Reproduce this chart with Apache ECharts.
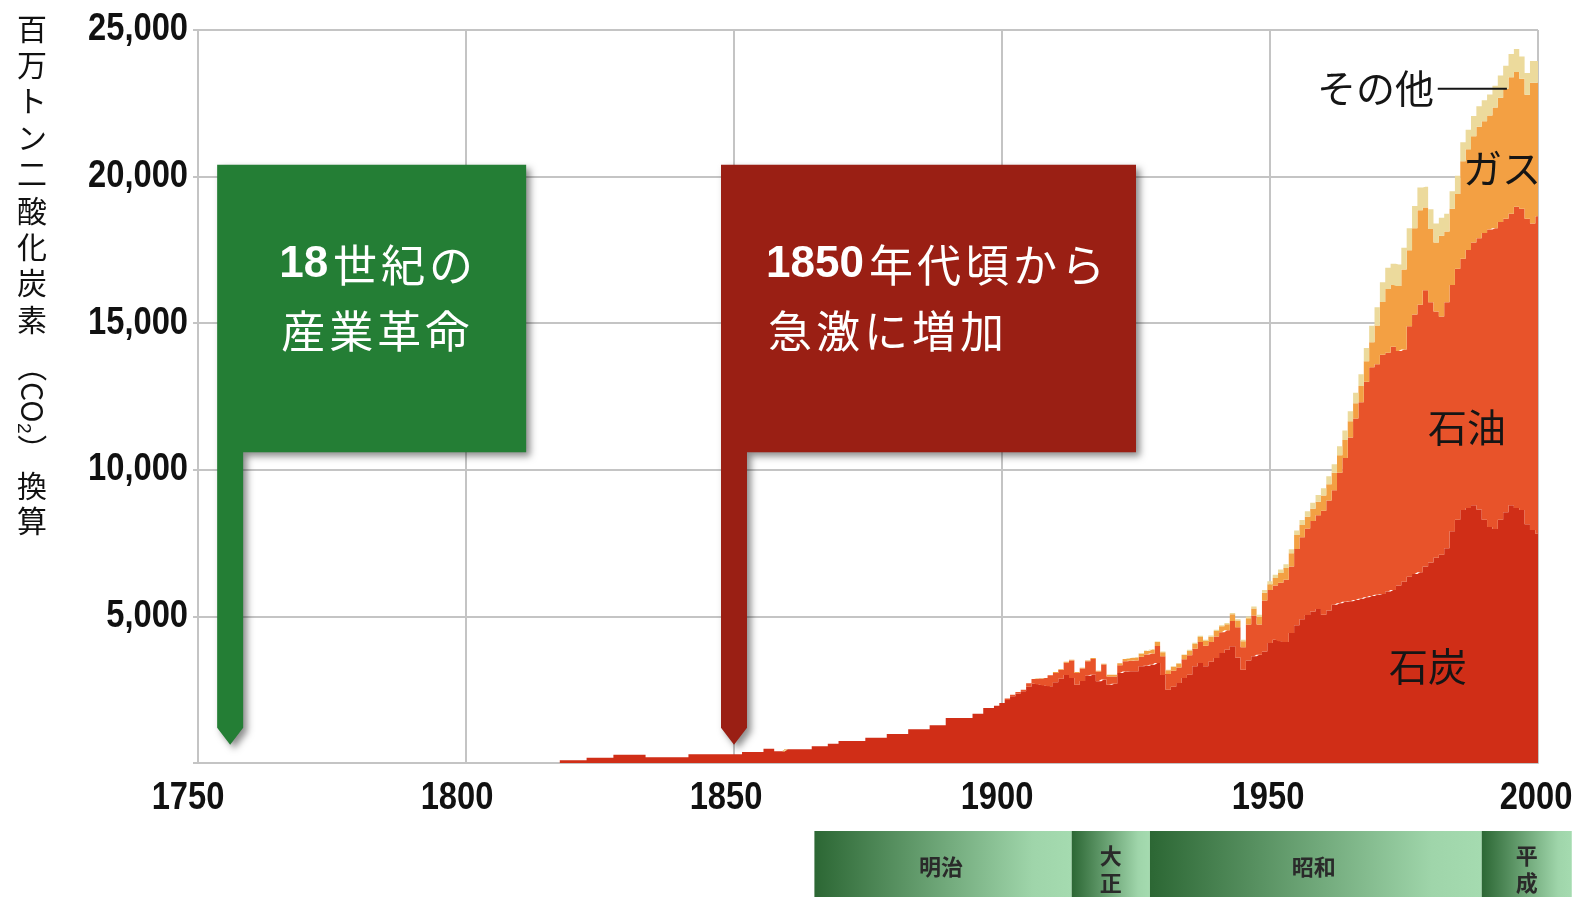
<!DOCTYPE html>
<html>
<head>
<meta charset="utf-8">
<script src="https://cdn.jsdelivr.net/npm/echarts@6/dist/echarts.min.js"></script>
<style>
html,body{margin:0;padding:0;background:#ffffff;}
#chart{width:1585px;height:897px;}
</style>
</head>
<body>
<div id="chart"></div>
<script>
// ---------- DATA (MtCO2) ----------
const firstYear = 1750;
const lastYear = 2000;
const xTickYears = [1750, 1800, 1850, 1900, 1950, 2000];
const yTicks = [0, 5000, 10000, 15000, 20000, 25000];

const coalStart = 1818;
const coal = [
  90,90,90,90,90, 180,180,180,180,180, 285,285,285,285,285,285,
  195,195,195,195,195,195,195,195, 295,295,295,295,295,295,295,295,295,295,
  375,375,375,375, 490,490, 400,400, 465,465,465,465,465, 570,570,570, 660,660,
  750,750,750,750,750, 865,865,865,865, 990,990,990,990, 1150,1150,1150,1150,
  1285,1285,1285, 1535,1535,1535,1535,1535, 1680,1680, 1875,1875, 1950,
  2050,2150,2280,2370,2450,2600,2700,2680,2640,2620,
  2750,2870,3000,2900,2670,2800,2980,3012,2790,2850,
  2670,2700,3070,3120,3126,3126,3296,3320,3353,3411,
  3000,2500,2600,2728,2900,3012,3300,3411,3296,3450,
  3581,3750,3864,3978,3600,3183,3500,3637,3694,3800,
  4093,4206,4149,4125,4430,4700,4900,5050,5170,5250,
  5060,5200,5400,5450,5500,5520,5560,5600,5650,5700,
  5740,5760,5850,5900,6050,6185,6350,6450,6510,6700,
  6835,7000,7100,7325,7900,8300,8630,8700,8790,8650,
  8300,8050,7980,8300,8550,8790,8700,8630,8140,7950,
  7815
];

const oilStart = 1900;
const oil = [
  0,50,50,50,50,120,165,200,260,370,
  320,300,420,593,400,420,490,539,330,507,
  282,252,260,347,364,369,324,380,385,576,
  640,532,550,532,640,662,600,720,699,680,
  735,710,661,868,1030,762,1220,1393,1026,1740,
  1807,1844,2001,2125,2270,2600,2800,2950,3080,3200,
  3540,3750,3900,4450,4900,5580,6190,6700,7350,7800,
  7860,8160,8140,8300,8005,7915,8550,8850,9120,9420,
  8880,8400,8125,8390,8400,8555,8570,8800,8960,9250,
  9780,10150,10260,10150,10015,9940,10270,10270,10425,10450,
  10835
];

const gasStart = 1910;
const gas = [
  30,30,30,30,30,30,30,30,30,30,
  60,60,70,80,90,100,110,120,130,140,
  140,130,130,130,140,150,160,170,170,180,
  190,200,210,230,230,210,220,240,260,270,
  200,260,330,400,450,480,420,400,420,460,
  520,560,600,600,620,560,520,560,700,850,
  1320,1800,2180,2100,2215,2730,2590,2940,3225,2830,
  2495,2350,2755,2415,2600,2555,3320,3430,3630,3800,
  3810,3880,4120,4240,4435,4655,4600,4440,4230,4800,
  4550
];

const otherStart = 1925;
const other = [
  20,20,20,20,20,20,20,20,20,20,
  40,40,40,40,40,40,40,40,40,40,
  50,60,70,80,90,
  100,110,120,130,140,150,170,190,210,230,
  250,270,290,300,320,340,360,400,450,560,
  620,680,720,730,730,740,750,760,770,700,
  680,650,620,600,600,620,650,670,690,700,
  710,720,740,760,780,800,780,760,740,740,
  740
];

const seriesNames = ['石炭', '石油', 'ガス', 'その他'];

// Japanese eras shown under the axis (start / end years)
const eraNames = ['明治', '大正', '昭和', '平成'];
const eraStarts = [1865, 1913, 1927.6, 1989.5];
const eraEnds = [1913, 1927.6, 1989.5, 2006.3];

// ---------- BUILD ----------
const years = [];
for (let y = firstYear; y <= lastYear; y++) years.push(String(y));

function seriesData(values, start) {
  return years.map(function (ys) {
    const y = +ys;
    const i = y - start;
    if (i >= 0 && i < values.length) return values[i];
    return y >= coalStart ? 0 : null;
  });
}

const numFont = "'Liberation Sans','Arimo',sans-serif";
const jpFont = "'Noto Sans CJK JP','Noto Sans CJK SC',sans-serif";
const gridColor = '#c4c4c4';
// small horizontal nudges of the year labels, as placed in the original
const xLabelShift = [-10, -9, -8, -5, -2, -2];

const colors = ['#d02e17', '#e8532a', '#f3a043', '#ecda9c'];
const valueSets = [[coal, coalStart], [oil, oilStart], [gas, gasStart], [other, otherStart]];

const chart = echarts.init(document.getElementById('chart'), null, { renderer: 'canvas' });

const option = {
  animation: false,
  backgroundColor: '#ffffff',
  grid: { left: 198, right: 47, top: 30, bottom: 134, containLabel: false },
  xAxis: {
    type: 'category',
    data: years,
    boundaryGap: false,
    axisLine: { show: true, lineStyle: { color: gridColor, width: 2 } },
    axisTick: { show: false },
    axisLabel: { show: false },
    splitLine: {
      show: true,
      interval: function (i, v) { return xTickYears.indexOf(+v) >= 0; },
      lineStyle: { color: gridColor, width: 2 }
    }
  },
  yAxis: {
    type: 'value',
    min: yTicks[0], max: yTicks[yTicks.length - 1], interval: yTicks[1] - yTicks[0],
    axisLine: { show: true, lineStyle: { color: gridColor, width: 2 } },
    axisTick: { show: true, length: 5, lineStyle: { color: gridColor, width: 2 } },
    axisLabel: { show: false },
    splitLine: { show: true, lineStyle: { color: gridColor, width: 2 } }
  },
  series: seriesNames.map(function (name, k) {
    return {
      name: name, type: 'line', stack: 'total', symbol: 'none', step: 'middle',
      silent: true, lineStyle: { width: 0 },
      areaStyle: { color: colors[k], opacity: 1 },
      emphasis: { disabled: true },
      data: seriesData(valueSets[k][0], valueSets[k][1])
    };
  })
};
chart.setOption(option);

// ---------- ANNOTATIONS ----------
const x0 = chart.convertToPixel({ xAxisIndex: 0 }, String(firstYear));
const x1 = chart.convertToPixel({ xAxisIndex: 0 }, String(lastYear));
function px(year) { return x0 + (year - firstYear) / (lastYear - firstYear) * (x1 - x0); }
function py(v) { return chart.convertToPixel({ yAxisIndex: 0 }, v); }

const graphics = [];

// narrow bold tick labels (condensed look of the original)
xTickYears.forEach(function (yr, i) {
  graphics.push({
    type: 'text', silent: true, x: px(yr) + xLabelShift[i], y: 799, scaleX: 0.86,
    style: { text: String(yr), fill: '#111', font: 'bold 38px ' + numFont, align: 'center', verticalAlign: 'middle' }
  });
});
yTicks.forEach(function (v) {
  if (v === 0) return;
  graphics.push({
    type: 'text', silent: true, x: 188, y: py(v), scaleX: 0.86,
    style: { text: v.toLocaleString('en-US'), fill: '#111', font: 'bold 38px ' + numFont, align: 'right', verticalAlign: 'middle' }
  });
});

const flags = [
  { year: 1756, top: 20400, bottom: 10600, tip: 620, width: 309, color: '#247e35', textDx: 62,
    lines: [['18', '世紀の'], ['', '産業革命']] },
  { year: 1850, top: 20400, bottom: 10600, tip: 620, width: 415, color: '#9a1f14', textDx: 45,
    lines: [['1850', '年代頃から'], ['', '急激に増加']] }
];

function spaced(parts) {
  let s = parts[0] ? '{b|' + parts[0] + '}' : '';
  parts[1].split('').forEach(function (ch) { s += '{c|' + ch + '}'; });
  return s;
}

const poleW = 26;
flags.forEach(function (f) {
  const cx = px(f.year);
  const L = cx - poleW / 2;
  const T = py(f.top), B = py(f.bottom), tipY = py(f.tip);
  graphics.push({
    type: 'polygon', z: 100, silent: true,
    shape: { points: [[L, T], [L + f.width, T], [L + f.width, B], [L + poleW, B], [L + poleW, tipY - 17], [cx, tipY], [L, tipY - 17]] },
    style: { fill: f.color, shadowBlur: 7, shadowOffsetX: 4, shadowOffsetY: 4, shadowColor: 'rgba(0,0,0,0.45)' }
  });
  f.lines.forEach(function (parts, i) {
    graphics.push({
      type: 'text', z: 101, silent: true,
      x: L + f.textDx, y: T + 100 + i * 66,
      style: {
        text: spaced(parts), fill: '#ffffff', font: 'normal 44px ' + jpFont,
        verticalAlign: 'middle', align: 'left',
        rich: {
          b: { fontSize: 44, fontWeight: 'bold', fontFamily: "'Liberation Sans','Noto Sans',sans-serif", fill: '#ffffff', padding: [0, 3, 0, 0] },
          c: { fontSize: 44, fontFamily: jpFont, fill: '#ffffff', padding: [0, 2, 0, 2] }
        }
      }
    });
  });
});

// series labels
const seriesLabels = [
  { text: 'その他', year: 1980.6, value: 23000, align: 'right' },
  { text: 'ガス', year: 1986.0, value: 20270, align: 'left' },
  { text: '石油', year: 1979.5, value: 11470, align: 'left' },
  { text: '石炭', year: 1972.2, value: 3290, align: 'left' }
];
seriesLabels.forEach(function (s) {
  graphics.push({
    type: 'text', z: 102, silent: true,
    x: px(s.year), y: py(s.value),
    style: { text: s.text, fill: '#151515', font: 'normal 39px ' + jpFont, align: s.align, verticalAlign: 'middle' }
  });
});
graphics.push({
  type: 'line', z: 102, silent: true,
  shape: { x1: px(1981.3), y1: py(23000), x2: px(1994.2), y2: py(23000) },
  style: { stroke: '#151515', lineWidth: 2 }
});

// y-axis title, written vertically
graphics.push({
  type: 'text', silent: true, x: 32, y: 10,
  style: { text: '百\n万\nト\nン\n二\n酸\n化\n炭\n素', fill: '#111', font: 'normal 30px ' + jpFont,
    align: 'center', verticalAlign: 'top', lineHeight: 36.4 }
});
graphics.push({
  type: 'text', silent: true, x: 32, y: 408, rotation: -Math.PI / 2,
  style: { text: '（CO₂）', fill: '#111', font: 'normal 30px ' + jpFont, align: 'center', verticalAlign: 'middle' }
});
graphics.push({
  type: 'text', silent: true, x: 32, y: 468,
  style: { text: '換\n算', fill: '#111', font: 'normal 30px ' + jpFont,
    align: 'center', verticalAlign: 'top', lineHeight: 35 }
});

// era bar
const eraTop = 831, eraH = 70;
eraNames.forEach(function (name, i) {
  const a = px(eraStarts[i]), b = px(eraEnds[i]);
  graphics.push({
    type: 'rect', silent: true,
    shape: { x: a, y: eraTop, width: b - a, height: eraH },
    style: { fill: new echarts.graphic.LinearGradient(0, 0, 1, 0, [
      { offset: 0, color: '#2c6734' }, { offset: 0.85, color: '#9fd5aa' }, { offset: 1, color: '#a5dbb0' }]) }
  });
  const narrow = (b - a) < 120;
  graphics.push({
    type: 'text', silent: true,
    x: (a + b) / 2 - (narrow ? 0 : 2), y: narrow ? 869 : 867,
    style: { text: narrow ? name.split('').join('\n') : name, fill: '#2a2a2a',
      font: 'bold 22px ' + jpFont, align: 'center', verticalAlign: 'middle', lineHeight: 27 }
  });
});

chart.setOption({ graphic: graphics });
</script>
</body>
</html>
